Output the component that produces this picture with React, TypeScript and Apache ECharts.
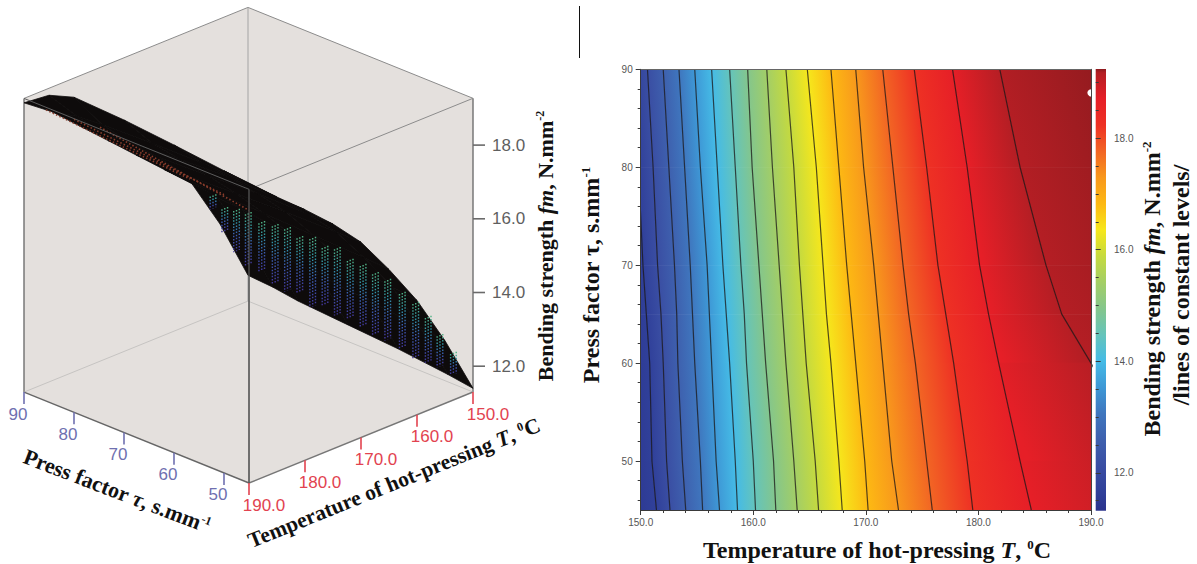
import React, { useEffect, useRef } from "react";
import * as echarts from "echarts";

// ---- contour map data ----
const pressFactorRows = [90, 80, 70, 65, 60, 50, 45];
const contourLevels = [11.65, 12.12, 12.59, 13.06, 13.53, 14.0, 14.47, 14.94, 15.41, 15.88, 16.35, 16.82, 17.29, 17.76, 18.23, 18.7, 19.17];
const contourAt90 = [149.3, 150.6, 152.0, 153.4, 154.8, 156.3, 157.9, 159.5, 161.2, 162.9, 164.8, 166.9, 169.1, 171.5, 174.3, 177.7, 181.9];
const contourAt80 = [149.8, 151.1, 152.5, 153.9, 155.3, 156.8, 158.4, 159.9, 161.7, 163.6, 165.6, 167.6, 169.8, 172.4, 175.4, 179.0, 183.7];
const contourAt70 = [150.2, 151.5, 153.0, 154.4, 155.9, 157.3, 158.9, 160.5, 162.3, 164.1, 166.2, 168.3, 170.7, 173.3, 176.4, 180.1, 186.0];
const contourAt65 = [150.5, 151.8, 153.2, 154.6, 156.1, 157.6, 159.2, 160.8, 162.6, 164.4, 166.5, 168.7, 171.1, 173.8, 177.1, 180.9, 187.4];
const contourAt60 = [150.8, 152.0, 153.3, 154.8, 156.3, 157.9, 159.4, 161.1, 162.9, 164.7, 166.9, 169.1, 171.5, 174.4, 177.8, 181.8, 190.0];
const contourAt50 = [151.0, 152.3, 153.7, 155.3, 156.7, 158.4, 160.0, 161.8, 163.6, 165.5, 167.6, 169.9, 172.3, 175.4, 179.0, 183.7, 195.0];
const contourAt45 = [151.4, 152.6, 154.0, 155.5, 157.0, 158.6, 160.2, 162.0, 163.9, 165.8, 167.9, 170.2, 172.9, 175.9, 179.5, 184.7, 197.0];
const contourRows = [contourAt90, contourAt80, contourAt70, contourAt65, contourAt60, contourAt50, contourAt45];
const fieldLowEnd = [148, 148, 148, 148, 148, 148, 148];
const fieldHighEnd = [192, 196, 200, 203, 206, 212, 216];
const strengthMin = 11.32;
const strengthMax = 19.24;
const levelColors = ["#2b338c", "#30409a", "#3a4ea3", "#3e60ae", "#3f76be", "#3e98d6", "#45bbe6", "#65c4bb", "#84c68c", "#a3ce66", "#c5da3f", "#f6e71c", "#fdb913", "#f8981c", "#f26524", "#ee3124", "#e61f27", "#b41e24", "#8c1a1e"];
const optimum = [190, 87.6];

// ---- axis tick lists ----
const temperatureTicks = [150, 160, 170, 180, 190];
const pressTicks = [90, 80, 70, 60, 50];
const pressMinorTicks = [46, 48, 52, 54, 56, 58, 62, 64, 66, 68, 72, 74, 76, 78, 82, 84, 86, 88];
const strengthTicks = [12, 14, 16, 18];
const strengthMinorTicks = [11.5, 12.5, 13, 13.5, 14.5, 15, 15.5, 16.5, 17, 17.5, 18.5, 19];

// ---- 3D surface data ----
const surfaceTemps = [150, 155, 160, 165, 170, 175, 180, 185, 190];
const surfaceTaus = [90, 85, 80, 70, 60, 50, 45];
const surfaceAt90 = [12.0, 13.7, 15.1, 15.8, 16.5, 17.2, 17.9, 18.6, 19.15];
const surfaceAt85 = [11.95, 13.6, 15.0, 15.75, 16.5, 17.25, 17.95, 18.75, 19.63];
const surfaceAt80 = [11.85, 13.55, 14.95, 15.75, 16.5, 17.3, 18.0, 18.8, 19.85];
const surfaceAt70 = [11.75, 13.4, 14.8, 15.7, 16.55, 17.35, 18.1, 18.85, 19.78];
const surfaceAt60 = [11.65, 13.25, 14.65, 15.65, 16.6, 17.4, 18.15, 18.85, 19.65];
const surfaceAt50 = [11.5, 13.1, 14.5, 15.6, 16.6, 17.4, 18.1, 18.8, 19.5];
const surfaceAt45 = [11.4, 13.0, 14.4, 15.55, 16.6, 17.4, 18.1, 18.75, 19.44];
const surfaceRows = [surfaceAt90, surfaceAt85, surfaceAt80, surfaceAt70, surfaceAt60, surfaceAt50, surfaceAt45];
// mesh stems seen through the surface: temperature, press factor, top strength, bottom strength
const meshStems = [
  [187.5, 55, 18.4, 18.05], [185.4, 55, 17.93, 17.3], [183.3, 55, 17.75, 16.63], [181.2, 55, 17.53, 16.13], [178.8, 55, 17.14, 15.8],
  [176.4, 55, 16.91, 15.35], [174.2, 55, 16.69, 15.0], [172.0, 55, 16.31, 14.84], [169.7, 55, 16.15, 14.29],
  [167.5, 55, 15.77, 14.21], [165.3, 55, 15.6, 13.8], [163.0, 55, 15.14, 13.58], [160.7, 55, 14.86, 13.19],
  [158.5, 55, 14.5, 12.84], [156.3, 55, 14.18, 12.57], [153.7, 55, 13.67, 12.19], [151.3, 55, 13.25, 11.77],
  [158.0, 45, 13.83, 12.62], [155.9, 45, 13.21, 12.36], [153.5, 45, 12.58, 11.99],
];
// dotted red mesh lines near the crest: start and end as temperature, press factor, strength
const crestLines = [
  [190, 85.6, 19.2, 190, 56.8, 18.9],
  [190, 80.0, 19.25, 190, 50.0, 18.85],
  [190, 74.8, 19.32, 190, 45, 18.7],
];

const hexRgb = (h: string) => [parseInt(h.slice(1, 3), 16), parseInt(h.slice(3, 5), 16), parseInt(h.slice(5, 7), 16)];
const colorValues = [strengthMin, ...contourLevels, strengthMax];
function colorAt(z: number) {
  if (z <= colorValues[0]) return levelColors[0];
  for (let i = 1; i < colorValues.length; i++) {
    if (z <= colorValues[i]) {
      const f = (z - colorValues[i - 1]) / (colorValues[i] - colorValues[i - 1]);
      const a = hexRgb(levelColors[i - 1]);
      const b = hexRgb(levelColors[i]);
      return `rgb(${a.map((v, k) => Math.round(v + (b[k] - v) * f)).join(",")})`;
    }
  }
  return levelColors[levelColors.length - 1];
}

// oblique projection of (temperature, press factor, strength) into the overlay axes
function project(T: number, tau: number, z: number) {
  return [473 - 5.6 * (T - 150) - 5.0 * (tau - 45), 392 + 2.275 * (T - 150) - 2.02 * (tau - 45) - 36.85 * (z - 11.3)];
}
const zLow = 11.3;
const zHigh = 19.27;

const serif = "Liberation Serif";
const sans = "Liberation Sans";

function richTitle(size: number) {
  const base = { fontFamily: serif, fontWeight: "bold", fontSize: size, fill: "#111", color: "#111" };
  return {
    b: base,
    i: { ...base, fontStyle: "italic" },
    s: { ...base, fontSize: Math.round(size * 0.55), verticalAlign: "top" },
  };
}
function title(text: string, x: number, y: number, deg: number, size: number) {
  return {
    type: "text",
    x,
    y,
    rotation: (deg * Math.PI) / 180,
    silent: true,
    style: { text, rich: richTitle(size), align: "center", verticalAlign: "middle", fill: "#111" },
  };
}

function buildOption() {
  // band cells of the filled map
  const ribs = [fieldLowEnd, ...contourLevels.map((_, k) => contourRows.map((row) => row[k])), fieldHighEnd];
  const ribValues = [11.2, ...contourLevels, strengthMax];
  const bandCells: number[][] = [];
  for (let b = 0; b < ribs.length - 1; b++) {
    for (let r = 0; r < pressFactorRows.length - 1; r++) {
      bandCells.push([
        ribs[b][r], pressFactorRows[r], ribs[b][r + 1], pressFactorRows[r + 1],
        ribs[b + 1][r], ribs[b + 1][r + 1], ribValues[b], ribValues[b + 1],
      ]);
    }
  }
  const surfaceCells: number[][] = [];
  for (let r = 0; r < surfaceTaus.length - 1; r++) {
    for (let c = 0; c < surfaceTemps.length - 1; c++) {
      surfaceCells.push([
        surfaceTemps[c], surfaceTaus[r], surfaceRows[r][c],
        surfaceTemps[c + 1], surfaceTaus[r], surfaceRows[r][c + 1],
        surfaceTemps[c + 1], surfaceTaus[r + 1], surfaceRows[r + 1][c + 1],
        surfaceTemps[c], surfaceTaus[r + 1], surfaceRows[r + 1][c],
      ]);
    }
  }

  const overlay = { coordinateSystem: "cartesian2d", xAxisIndex: 0, yAxisIndex: 0, silent: true, clip: false };
  const P = (api: any, T: number, tau: number, z: number) => api.coord(project(T, tau, z));
  const line = (a: number[], b: number[], stroke: string, lineWidth: number, extra: any = {}) => ({
    type: "line",
    shape: { x1: a[0], y1: a[1], x2: b[0], y2: b[1] },
    style: { stroke, lineWidth, ...extra },
  });

  const series: any[] = [
    // box back
    {
      ...overlay, type: "custom", name: "box", z: 1, data: [[150, 190, 45, 90]],
      renderItem: (_: any, api: any) => {
        const lt = P(api, 190, 90, zHigh), ap = P(api, 150, 90, zHigh), rt = P(api, 150, 45, zHigh);
        const rb = P(api, 150, 45, zLow), fb = P(api, 190, 45, zLow), lb = P(api, 190, 90, zLow), bk = P(api, 150, 90, zLow);
        const ft = P(api, 190, 45, zHigh);
        return {
          type: "group",
          children: [
            { type: "polygon", shape: { points: [lt, ap, rt, rb, fb, lb] }, style: { fill: "#e4e0dd" } },
            line(lt, lb, "#6f6f6f", 1.4),
            line(rt, rb, "#6f6f6f", 1.4),
            line(lb, bk, "#c6c4c2", 1),
            line(bk, rb, "#c6c4c2", 1),
            line(lb, fb, "#666666", 1.4),
            line(fb, rb, "#777777", 1.4),
            line(lt, ap, "#8c8c8c", 1),
            line(ap, rt, "#8c8c8c", 1),
            line(rt, ft, "#8c8c8c", 1),
            line(ap, bk, "#a4a4a4", 1),
            line(ft, fb, "#555555", 1.2),
          ],
        };
      },
    },
    // surface
    {
      ...overlay, type: "custom", name: "surface", z: 2, data: surfaceCells,
      renderItem: (p: any, api: any) => {
        const c = surfaceCells[p.dataIndex];
        return {
          type: "polygon",
          shape: { points: [P(api, c[0], c[1], c[2]), P(api, c[3], c[4], c[5]), P(api, c[6], c[7], c[8]), P(api, c[9], c[10], c[11])] },
          style: { fill: "#0e0b0b", stroke: "#0e0b0b", lineWidth: 0.8 },
        };
      },
    },
    // mesh dots on the surface
    {
      ...overlay, type: "custom", name: "mesh", z: 3, data: meshStems,
      renderItem: (p: any, api: any) => {
        const s = meshStems[p.dataIndex];
        const a = P(api, s[0], s[1], s[2]);
        const b = P(api, s[0], s[1], s[3]);
        const grad = new echarts.graphic.LinearGradient(0, a[1], 0, b[1], [
          { offset: 0, color: "#4fb184" },
          { offset: 0.3, color: "#2f93a4" },
          { offset: 0.6, color: "#3a5cb0" },
          { offset: 1, color: "#42379c" },
        ], true);
        const stem = (T: number) => {
          const q = P(api, T, s[1], s[2]);
          const w = P(api, T, s[1], s[3]);
          return { type: "line", shape: { x1: q[0], y1: q[1], x2: w[0], y2: w[1] }, style: { stroke: grad, lineWidth: 1.4, lineDash: [1.5, 1.6] } };
        };
        return { type: "group", children: [stem(s[0] + 0.5), stem(s[0]), stem(s[0] - 0.5)] };
      },
    },
    // crest dots
    {
      ...overlay, type: "custom", name: "crest", z: 3, data: crestLines,
      renderItem: (p: any, api: any) => {
        const s = crestLines[p.dataIndex];
        return line(P(api, s[0], s[1], s[2]), P(api, s[3], s[4], s[5]), "#8a3d2c", 1.6, { lineDash: [1.5, 2.2] });
      },
    },
    {
      ...overlay, type: "custom", name: "boxFront", z: 4, data: [[150, 190, 45, 90]],
      renderItem: (_: any, api: any) => {
        const lt = P(api, 190, 90, zHigh), ft = P(api, 190, 45, zHigh), fb = P(api, 190, 45, zLow);
        return {
          type: "group",
          children: [line(lt, ft, "#5c5c5c", 1), line(ft, fb, "#5c5c5c", 1.2)],
        };
      },
    },
    // 3D ticks and labels
    {
      ...overlay, type: "custom", name: "pressTicks3d", z: 4, data: pressTicks,
      renderItem: (p: any, api: any) => {
        const v = pressTicks[p.dataIndex];
        const a = P(api, 190, v, zLow);
        return {
          type: "group",
          children: [
            line(a, [a[0], a[1] + 12], "#6f70b0", 1.6),
            { type: "text", style: { text: String(v), x: a[0] - 6, y: a[1] + 22, fill: "#6f70b0", fontSize: 17, fontFamily: sans, align: "center", verticalAlign: "middle" } },
          ],
        };
      },
    },
    {
      ...overlay, type: "custom", name: "tempTicks3d", z: 4, data: temperatureTicks,
      renderItem: (p: any, api: any) => {
        const v = temperatureTicks[p.dataIndex];
        const a = P(api, v, 45, zLow);
        return {
          type: "group",
          children: [
            line(a, [a[0], a[1] + 12], "#e2434f", 1.6),
            { type: "text", style: { text: v.toFixed(1), x: a[0] + 15, y: a[1] + 22, fill: "#e2434f", fontSize: 17, fontFamily: sans, align: "center", verticalAlign: "middle" } },
          ],
        };
      },
    },
    {
      ...overlay, type: "custom", name: "strengthTicks3d", z: 4, data: strengthTicks,
      renderItem: (p: any, api: any) => {
        const v = strengthTicks[p.dataIndex];
        const a = P(api, 150, 45, v);
        return {
          type: "group",
          children: [
            line(a, [a[0] + 12, a[1]], "#6a6a6a", 1.6),
            { type: "text", style: { text: v.toFixed(1), x: a[0] + 19, y: a[1], fill: "#5f5f5f", fontSize: 17, fontFamily: sans, align: "left", verticalAlign: "middle" } },
          ],
        };
      },
    },
    // filled map
    {
      type: "custom", name: "field", coordinateSystem: "cartesian2d", xAxisIndex: 1, yAxisIndex: 1, clip: true, silent: true, z: 2,
      data: bandCells,
      renderItem: (p: any, api: any) => {
        const c = bandCells[p.dataIndex];
        const a1 = api.coord([c[0], c[1]]), a2 = api.coord([c[2], c[3]]);
        const b1 = api.coord([c[4], c[1]]), b2 = api.coord([c[5], c[3]]);
        let dx = a2[0] - a1[0] + b2[0] - b1[0];
        let dy = a2[1] - a1[1] + b2[1] - b1[1];
        const len = Math.hypot(dx, dy) || 1;
        dx /= len;
        dy /= len;
        const nx = -dy, ny = dx;
        const ax = (a1[0] + a2[0]) / 2, ay = (a1[1] + a2[1]) / 2;
        const bx = (b1[0] + b2[0]) / 2, by = (b1[1] + b2[1]) / 2;
        const d = (bx - ax) * nx + (by - ay) * ny;
        const grad = new echarts.graphic.LinearGradient(ax, ay, ax + nx * d, ay + ny * d, [
          { offset: 0, color: colorAt(c[6]) },
          { offset: 1, color: colorAt(c[7]) },
        ], true);
        return { type: "polygon", shape: { points: [a1, b1, b2, a2] }, style: { fill: grad, stroke: grad, lineWidth: 0.8 } };
      },
    },
    ...contourLevels.map((lv, k) => ({
      type: "line", name: `level ${lv}`, xAxisIndex: 1, yAxisIndex: 1, silent: true, showSymbol: false, z: 3,
      lineStyle: { color: "rgba(25,22,22,0.75)", width: 1.2 },
      data: contourRows.map((row, r) => [row[k], pressFactorRows[r]]),
    })),
    {
      type: "custom", name: "optimum", coordinateSystem: "cartesian2d", xAxisIndex: 1, yAxisIndex: 1, clip: true, silent: true, z: 4,
      data: [optimum],
      renderItem: (_: any, api: any) => {
        const c = api.coord(optimum);
        return { type: "circle", shape: { cx: c[0], cy: c[1], r: 3.6 }, style: { fill: "#ffffff" } };
      },
    },
    // colour bar
    {
      type: "custom", name: "colourbar", coordinateSystem: "cartesian2d", xAxisIndex: 4, yAxisIndex: 4, silent: true, z: 2,
      data: [[0, strengthMin, 1, strengthMax]],
      renderItem: (_: any, api: any) => {
        const a = api.coord([0, strengthMax]);
        const b = api.coord([1, strengthMin]);
        const stops = colorValues.map((v, i) => ({ offset: 1 - (v - strengthMin) / (strengthMax - strengthMin), color: levelColors[i] })).reverse();
        return {
          type: "rect",
          shape: { x: a[0], y: a[1], width: b[0] - a[0], height: b[1] - a[1] },
          style: { fill: new echarts.graphic.LinearGradient(0, 0, 0, 1, stops) },
        };
      },
    },
  ];

  const hidden = { show: false, splitLine: { show: false } };
  const tickLabel = { fontSize: 10, color: "#555", fontFamily: sans };
  const darkLine = { show: true, lineStyle: { color: "#3a3a3a", width: 1 } };
  const tick = (length: number) => ({ show: true, length, lineStyle: { color: "#3a3a3a", width: 1 } });

  return {
    animation: false,
    backgroundColor: "#ffffff",
    grid: [
      { left: 0, top: 0, width: 1197, height: 564 },
      { left: 640.7, top: 69.3, width: 450.3, height: 440.7 },
      { left: 1095.7, top: 69, width: 10.3, height: 441.7 },
    ],
    xAxis: [
      { ...hidden, type: "value", gridIndex: 0, min: 0, max: 1197 },
      {
        type: "value", gridIndex: 1, position: "bottom", min: 150, max: 190, interval: 10, z: 5,
        splitLine: { show: false }, axisLine: darkLine, axisTick: tick(5),
        minorTick: { show: true, splitNumber: 5, length: 3, lineStyle: { color: "#3a3a3a", width: 1 } },
        axisLabel: { ...tickLabel, margin: 7, formatter: (v: number) => v.toFixed(1) },
      },
      {
        type: "value", gridIndex: 1, position: "top", min: 150, max: 190, interval: 10, z: 5,
        splitLine: { show: false }, axisLine: { show: true, lineStyle: { color: "#666", width: 1 } }, axisTick: { show: false }, axisLabel: { show: false },
      },
      { ...hidden, type: "value", gridIndex: 2, min: 0, max: 1 },
      { ...hidden, type: "value", gridIndex: 2, min: 0, max: 1 },
    ],
    yAxis: [
      { ...hidden, type: "value", gridIndex: 0, min: 0, max: 564, inverse: true },
      {
        type: "value", gridIndex: 1, position: "left", min: 45, max: 90, z: 5,
        splitLine: { show: false }, axisLine: darkLine,
        axisTick: { ...tick(5), customValues: pressTicks },
        axisLabel: { ...tickLabel, margin: 8, customValues: pressTicks, formatter: (v: number) => String(v) },
      },
      {
        type: "value", gridIndex: 1, position: "left", min: 45, max: 90, z: 5,
        splitLine: { show: false }, axisLine: { show: false },
        axisTick: { ...tick(3), customValues: pressMinorTicks }, axisLabel: { show: false },
      },
      {
        type: "value", gridIndex: 1, position: "right", min: 45, max: 90, z: 5,
        splitLine: { show: false }, axisLine: { show: true, lineStyle: { color: "#444", width: 1 } }, axisTick: { show: false }, axisLabel: { show: false },
      },
      {
        type: "value", gridIndex: 2, position: "right", min: strengthMin, max: strengthMax, z: 5,
        splitLine: { show: false }, axisLine: { show: false },
        axisTick: { ...tick(5), customValues: strengthTicks },
        axisLabel: { ...tickLabel, margin: 8, customValues: strengthTicks, formatter: (v: number) => v.toFixed(1) },
      },
      {
        type: "value", gridIndex: 2, position: "right", min: strengthMin, max: strengthMax, z: 5,
        splitLine: { show: false }, axisLine: { show: false },
        axisTick: { ...tick(3), customValues: strengthMinorTicks }, axisLabel: { show: false },
      },
    ],
    series,
    graphic: [
      { type: "line", silent: true, shape: { x1: 579.5, y1: 6, x2: 579.5, y2: 58 }, style: { stroke: "#111", lineWidth: 1 } },
      title("{b|Press factor }{i|τ}{b|, s.mm}{s|-1}", 117, 491, -21, 22),
      title("{b|Temperature of hot-pressing }{i|T}{b|, }{s|0}{b|C}", 394, 483, 22, 21.6),
      title("{b|Bending strength }{i|fm}{b|, N.mm}{s|-2}", 545, 246, 90, 22),
      title("{b|Press factor τ, s.mm}{s|-1}", 591, 275, 90, 24),
      title("{b|Temperature of hot-pressing }{i|T}{b|, }{s|0}{b|C}", 877, 550, 0, 24),
      title("{b|Bending strength }{i|fm}{b|, N.mm}{s|-2}", 1152, 289, 90, 24),
      title("{b|/lines of constant levels/}", 1181, 285, 90, 24),
    ],
  };
}

export default function App() {
  const ref = useRef<HTMLDivElement>(null);
  useEffect(() => {
    const chart = echarts.init(ref.current as HTMLDivElement, undefined, { renderer: "svg" });
    chart.setOption(buildOption() as any);
    return () => chart.dispose();
  }, []);
  return <div ref={ref} style={{ position: "fixed", left: 0, top: 0, width: 1197, height: 564 }} />;
}
